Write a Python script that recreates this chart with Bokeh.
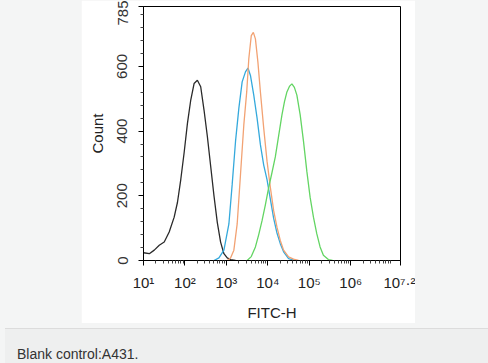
import numpy as np
from bokeh.plotting import figure
from bokeh.models import Range1d, FixedTicker, Spacer, Div
from bokeh.layouts import row, column
from bokeh.embed import file_html
from bokeh.resources import INLINE

# ---- data (x stored as log10 of FITC-H intensity) ----
black_log = [1.00, 1.14, 1.26, 1.38, 1.50, 1.62, 1.74, 1.82, 1.90, 1.98, 2.06, 2.14,
             2.22, 2.30, 2.38, 2.46, 2.54, 2.62, 2.70, 2.78, 2.86, 2.94, 3.02, 3.10, 3.22]
black_cnt = [24, 21, 32, 47, 57, 88, 134, 180, 251, 333, 424, 496,
             547, 557, 537, 465, 384, 292, 200, 118, 57, 21, 8, 3, 0]

blue_log = [2.70, 2.82, 2.94, 3.06, 3.14, 3.22, 3.30, 3.38, 3.46, 3.52, 3.58, 3.66,
            3.74, 3.82, 3.90, 3.98, 4.06, 4.14, 4.22, 4.30, 4.38, 4.50, 4.66]
blue_cnt = [0, 8, 32, 113, 236, 368, 470, 552, 583, 595, 572, 511,
            440, 358, 295, 250, 190, 130, 85, 52, 27, 6, 0]

orange_log = [3.02, 3.10, 3.18, 3.26, 3.34, 3.42, 3.49, 3.54, 3.60, 3.65, 3.70, 3.76,
              3.82, 3.90, 3.98, 4.06, 4.14, 4.22, 4.30, 4.38, 4.50, 4.62, 4.74]
orange_cnt = [0, 8, 32, 113, 266, 419, 521, 623, 695, 705, 685, 613,
              521, 409, 307, 226, 154, 103, 62, 32, 11, 4, 0]

green_log = [3.50, 3.60, 3.70, 3.78, 3.86, 3.94, 4.02, 4.10, 4.18, 4.26, 4.34, 4.40,
             4.46, 4.52, 4.58, 4.64, 4.70, 4.78, 4.86, 4.94, 5.02, 5.10, 5.18, 5.26,
             5.34, 5.46, 5.56]
green_cnt = [0, 12, 42, 80, 123, 172, 225, 272, 320, 385, 450, 490,
             521, 538, 546, 535, 511, 450, 368, 276, 195, 134, 83, 42,
             16, 3, 0]

x_tick_exps = ["1", "2", "3", "4", "5", "6", "7.2"]
y_ticks = [0, 200, 400, 600, 785]
y_minor = [40, 80, 120, 160, 240, 280, 320, 360, 440, 480, 520, 560, 640, 680, 720, 760]

FONT = "Liberation Sans"
SUP = str.maketrans("0123456789.", "⁰¹²³⁴⁵⁶⁷⁸⁹·")

p = figure(width=334, height=323, x_axis_type="log",
           x_range=Range1d(10, 10 ** 7.2), y_range=Range1d(0, 785),
           output_backend="svg", toolbar_location=None,
           min_border_left=62, min_border_right=15, min_border_top=6,
           min_border_bottom=61, background_fill_color="white",
           border_fill_color="white")
p.grid.visible = False
p.outline_line_color = "black"
p.outline_line_width = 1

series = [(black_log, black_cnt, "#2a2a2a"),
          (blue_log, blue_cnt, "#35a9dc"),
          (orange_log, orange_cnt, "#f2a273"),
          (green_log, green_cnt, "#63d563")]
for lg, cnt, col in series:
    p.line(10 ** np.array(lg), cnt, line_color=col, line_width=1.3)

# x axis
x_major = [10 ** float(e) for e in x_tick_exps]
x_minor = [m * 10 ** k for k in range(1, 7) for m in range(2, 10)]
p.xaxis.ticker = FixedTicker(ticks=x_major, minor_ticks=x_minor)
p.xaxis.major_label_overrides = {v: "10" + e.translate(SUP)
                                 for v, e in zip(x_major, x_tick_exps)}
p.xaxis.major_label_text_font = FONT
p.xaxis.major_label_text_font_size = "15px"
p.xaxis.major_label_text_color = "#222222"
p.xaxis.major_label_standoff = 8
p.xaxis.major_tick_out = 5
p.xaxis.major_tick_in = 0
p.xaxis.minor_tick_out = 3
p.xaxis.minor_tick_in = 0
p.xaxis.axis_label = "FITC-H"
p.xaxis.axis_label_text_font = FONT
p.xaxis.axis_label_text_font_style = "normal"
p.xaxis.axis_label_text_font_size = "15px"
p.xaxis.axis_label_text_color = "#222222"
p.xaxis.axis_label_standoff = 10

# y axis
p.yaxis.ticker = FixedTicker(ticks=y_ticks, minor_ticks=y_minor)
p.yaxis.major_label_orientation = "vertical"
p.yaxis.major_label_text_font = FONT
p.yaxis.major_label_text_font_size = "15px"
p.yaxis.major_label_text_color = "#333333"
p.yaxis.major_label_standoff = 11
p.yaxis.major_tick_out = 5
p.yaxis.major_tick_in = 0
p.yaxis.minor_tick_out = 3
p.yaxis.minor_tick_in = 0
p.yaxis.axis_label = "Count"
p.yaxis.axis_label_text_font = FONT
p.yaxis.axis_label_text_font_style = "normal"
p.yaxis.axis_label_text_font_size = "15px"
p.yaxis.axis_label_text_color = "#222222"
p.yaxis.axis_label_standoff = 9

for ax in (p.xaxis[0], p.yaxis[0]):
    ax.axis_line_color = "black"
    ax.major_tick_line_color = "black"
    ax.minor_tick_line_color = "#444444"

top = row(Spacer(width=81, height=323), p, Spacer(width=73, height=323))
cap = Div(text="Blank control:A431.", width=488, height=40,
          styles={"background-color": "#eeefef", "border-top": "1px solid #dcdcdc",
                  "font-family": "Liberation Sans, Arial, sans-serif",
                  "font-size": "14px", "color": "#333333",
                  "padding-left": "12px", "padding-top": "15px",
                  "box-sizing": "border-box"})
layout = column(top, cap, styles={"background-color": "#f4f5f5"})

open("out.html", "w").write(file_html(layout, INLINE))
